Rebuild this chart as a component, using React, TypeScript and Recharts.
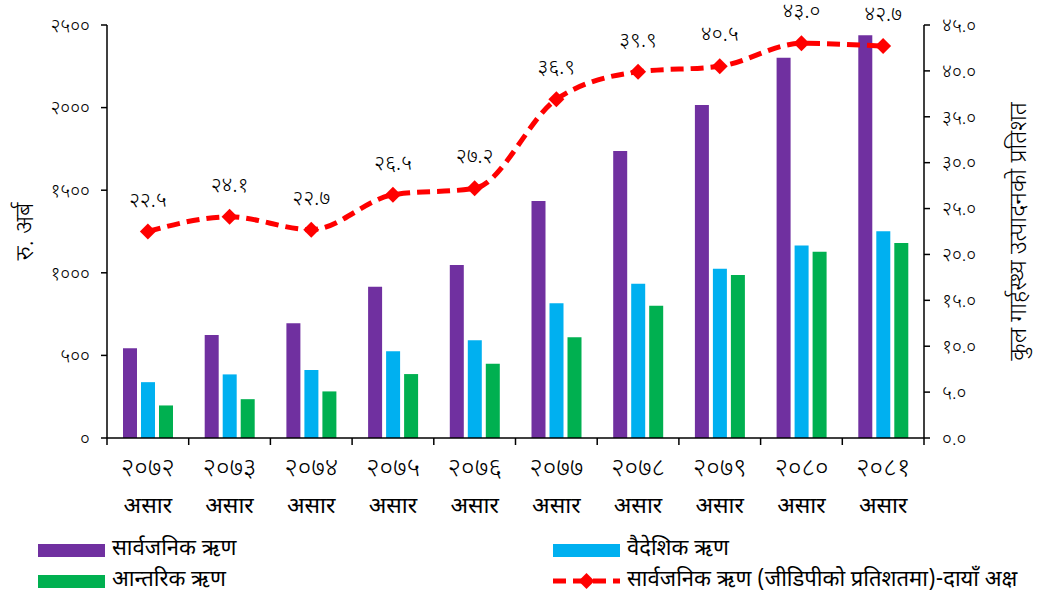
import React from 'react';
import { ComposedChart, Bar, Line, XAxis, YAxis, LabelList } from 'recharts';

const years = ['२०७२', '२०७३', '२०७४', '२०७५', '२०७६', '२०७७', '२०७८', '२०७९', '२०८०', '२०८१'];
const monthLabel = 'असार';
const publicDebt = [543, 624, 695, 915, 1047, 1434, 1737, 2015, 2302, 2438];
const externalDebt = [338, 385, 411, 525, 592, 816, 934, 1025, 1166, 1252];
const internalDebt = [197, 235, 282, 387, 450, 610, 800, 986, 1128, 1181];
const gdpShare = [22.5, 24.1, 22.7, 26.5, 27.2, 36.9, 39.9, 40.5, 43.0, 42.7];
const leftTicks = [0, 500, 1000, 1500, 2000, 2500];
const rightTicks = [0, 5, 10, 15, 20, 25, 30, 35, 40, 45];

const seriesNames = {
  pub: 'सार्वजनिक ऋण',
  ext: 'वैदेशिक ऋण',
  int: 'आन्तरिक ऋण',
  gdp: 'सार्वजनिक ऋण (जीडिपीको प्रतिशतमा)-दायाँ अक्ष',
};

const data = years.map((y, i) => ({
  year: y,
  pub: publicDebt[i],
  ext: externalDebt[i],
  int: internalDebt[i],
  gdp: gdpShare[i],
}));

const DEV = '०१२३४५६७८९';
const toDev = (s: string) => s.replace(/[0-9]/g, (d) => DEV[+d]);

const W = 1042;
const H = 594;
const LEFT_W = 107;
const RIGHT_W = 118;
const TOP = 25;
const X_H = 156;
const PLOT_W = W - LEFT_W - RIGHT_W;
const BAND = PLOT_W / years.length;

const FONT = '"Noto Sans Devanagari", "Noto Sans", "Lohit Devanagari", sans-serif';

const PURPLE = '#7030A0';
const BLUE = '#00B0F0';
const GREEN = '#00B050';
const RED = '#FF0000';

const XTick = (props: any) => {
  const { x, y, payload, index, visibleTicksCount } = props;
  const last = index === (visibleTicksCount ?? years.length) - 1;
  return (
    <g>
      <line x1={x - BAND / 2} y1={y} x2={x - BAND / 2} y2={y + 7} stroke="#000" strokeWidth={1.5} />
      {last && <line x1={x + BAND / 2} y1={y} x2={x + BAND / 2} y2={y + 7} stroke="#000" strokeWidth={1.5} />}
      <text x={x} y={y + 32} textAnchor="middle" dominantBaseline="central" fontSize={26} fontWeight={300} fill="#000" fontFamily={FONT}>
        {payload.value}
      </text>
      <text x={x} y={y + 69} textAnchor="middle" dominantBaseline="central" fontSize={23} fontWeight={400} fill="#000" fontFamily={FONT}>
        {monthLabel}
      </text>
    </g>
  );
};

const Diamond = (props: any) => {
  const { cx, cy } = props;
  if (cx == null || cy == null) return null;
  const r = 8;
  return <polygon points={`${cx},${cy - r} ${cx + r},${cy} ${cx},${cy + r} ${cx - r},${cy}`} fill={RED} />;
};

const GdpLabel = (props: any) => {
  const { x, y, value } = props;
  if (x == null || y == null) return null;
  return (
    <text x={x} y={y - 30} textAnchor="middle" dominantBaseline="central" fontSize={21} fontWeight={300} fill="#000" fontFamily={FONT}>
      {toDev(Number(value).toFixed(1))}
    </text>
  );
};

const legendText: React.CSSProperties = { fontSize: 22, fontFamily: FONT, color: '#000', whiteSpace: 'nowrap', lineHeight: '26px' };

export default function App() {
  return (
    <div style={{ position: 'absolute', left: 0, top: 0, width: W, height: H, overflow: 'hidden', background: '#fff' }}>
      <ComposedChart
        width={W}
        height={H}
        data={data}
        margin={{ top: TOP, right: 0, bottom: 0, left: 0 }}
        barSize={14}
        barGap={4}
      >
        <XAxis
          dataKey="year"
          height={X_H}
          axisLine={{ stroke: '#000', strokeWidth: 1.5 }}
          tickLine={false}
          tickSize={0}
          tickMargin={0}
          interval={0}
          tick={<XTick />}
        />
        <YAxis
          yAxisId="left"
          orientation="left"
          width={LEFT_W}
          domain={[0, 2500]}
          ticks={leftTicks}
          interval={0}
          axisLine={{ stroke: '#000', strokeWidth: 1.5 }}
          tickLine={{ stroke: '#000', strokeWidth: 1.5 }}
          tickSize={6}
          tickMargin={11}
          tick={{ fontSize: 19, fontWeight: 300, fill: '#000', fontFamily: FONT }}
          tickFormatter={(v: number) => toDev(String(v))}
          label={{
            value: 'रु. अर्ब',
            angle: -90,
            position: 'insideLeft',
            offset: 24,
            style: { fontSize: 25, fontWeight: 300, fill: '#000', fontFamily: FONT, textAnchor: 'middle' },
          }}
        />
        <YAxis
          yAxisId="right"
          orientation="right"
          width={RIGHT_W}
          domain={[0, 45]}
          ticks={rightTicks}
          interval={0}
          axisLine={{ stroke: '#000', strokeWidth: 1.5 }}
          tickLine={{ stroke: '#000', strokeWidth: 1.5 }}
          tickSize={6}
          tickMargin={12}
          tick={{ fontSize: 19, fontWeight: 300, fill: '#000', fontFamily: FONT }}
          tickFormatter={(v: number) => toDev(v.toFixed(1))}
          label={{
            value: 'कुल गार्हस्थ्य उत्पादनको प्रतिशत',
            angle: -90,
            position: 'insideRight',
            offset: 25,
            style: { fontSize: 24, fontWeight: 300, fill: '#000', fontFamily: FONT, textAnchor: 'middle' },
          }}
        />
        <Bar yAxisId="left" dataKey="pub" name={seriesNames.pub} fill={PURPLE} isAnimationActive={false} />
        <Bar yAxisId="left" dataKey="ext" name={seriesNames.ext} fill={BLUE} isAnimationActive={false} />
        <Bar yAxisId="left" dataKey="int" name={seriesNames.int} fill={GREEN} isAnimationActive={false} />
        <Line
          yAxisId="right"
          type="monotone"
          dataKey="gdp"
          name={seriesNames.gdp}
          stroke={RED}
          strokeWidth={5}
          strokeDasharray="13 7"
          dot={<Diamond />}
          activeDot={false}
          isAnimationActive={false}
        >
          <LabelList dataKey="gdp" content={<GdpLabel />} />
        </Line>
      </ComposedChart>

      <div style={{ position: 'absolute', left: 38, top: 537, display: 'flex', alignItems: 'center' }}>
        <div style={{ width: 67, height: 13, background: PURPLE, marginRight: 7 }} />
        <span style={legendText}>{seriesNames.pub}</span>
      </div>
      <div style={{ position: 'absolute', left: 38, top: 568, display: 'flex', alignItems: 'center' }}>
        <div style={{ width: 67, height: 13, background: GREEN, marginRight: 7 }} />
        <span style={legendText}>{seriesNames.int}</span>
      </div>
      <div style={{ position: 'absolute', left: 553, top: 537, display: 'flex', alignItems: 'center' }}>
        <div style={{ width: 67, height: 13, background: BLUE, marginRight: 7 }} />
        <span style={legendText}>{seriesNames.ext}</span>
      </div>
      <div style={{ position: 'absolute', left: 553, top: 568, display: 'flex', alignItems: 'center' }}>
        <svg width={67} height={16} style={{ marginRight: 7 }}>
          <line x1={0} y1={8} x2={67} y2={8} stroke={RED} strokeWidth={5} strokeDasharray="13 7" />
          <polygon points="33.5,0 41.5,8 33.5,16 25.5,8" fill={RED} />
        </svg>
        <span style={legendText}>{seriesNames.gdp}</span>
      </div>
    </div>
  );
}
